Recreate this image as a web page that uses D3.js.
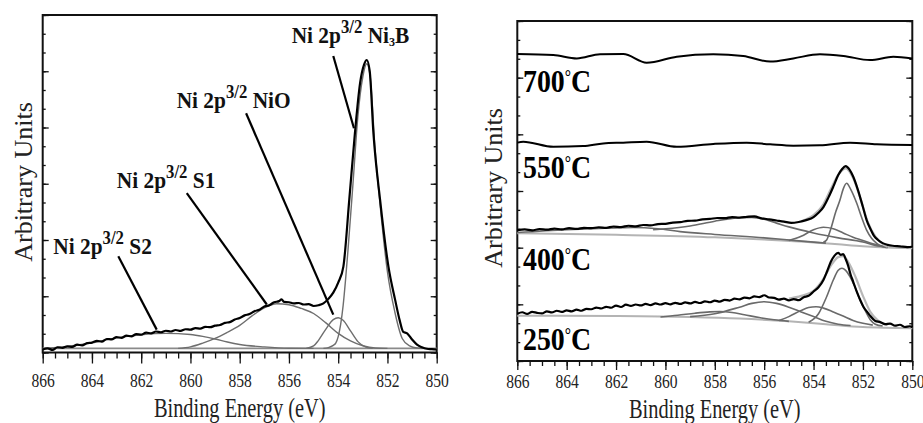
<!DOCTYPE html>
<html><head><meta charset="utf-8">
<script src="https://cdn.jsdelivr.net/npm/d3@7"></script>
<style>body{margin:0;background:#fff}svg{display:block}text{font-family:"Liberation Serif","Tinos","Times New Roman","DejaVu Serif",serif}</style>
</head><body>
<svg id="c" width="923" height="423"></svg>
<script>
// ---------- shared axis data ----------
const xMajor = [866, 864, 862, 860, 858, 856, 854, 852, 850];
const xTitle = "Binding Energy (eV)";
const yTitle = "Arbitrary Units";

// ---------- LEFT PANEL: Ni 2p3/2 fit ----------
const envL = [[866.0,0.16],[865.8,0.22],[865.6,0.14],[865.4,0.28],[865.2,0.25],[865.0,0.33],[864.8,0.30],[864.6,0.42],[864.4,0.38],[864.2,0.50],[864.0,0.53],[863.8,0.62],[863.6,0.58],[863.4,0.72],[863.2,0.70],[863.0,0.82],[862.8,0.78],[862.6,0.90],[862.4,0.86],[862.2,0.98],[862.0,0.95],[861.8,1.06],[861.6,1.02],[861.4,1.12],[861.2,1.08],[861.0,1.16],[860.8,1.12],[860.6,1.20],[860.4,1.15],[860.2,1.24],[860.0,1.22],[859.8,1.30],[859.6,1.27],[859.4,1.37],[859.2,1.35],[859.0,1.43],[858.8,1.47],[858.6,1.58],[858.4,1.62],[858.2,1.76],[858.0,1.84],[857.8,1.98],[857.6,2.05],[857.4,2.20],[857.2,2.28],[857.0,2.45],[856.8,2.52],[856.6,2.68],[856.4,2.74],[856.3,2.84],[856.2,2.70],[856.0,2.68],[855.8,2.62],[855.6,2.64],[855.4,2.56],[855.2,2.58],[855.0,2.48],[854.8,2.52],[854.6,2.62],[854.4,2.86],[854.2,3.19],[854.0,3.73],[853.79,4.58],[853.55,8.15],[853.32,11.71],[853.11,14.38],[852.95,15.35],[852.84,15.60],[852.72,15.0],[852.57,11.71],[852.30,8.15],[851.96,4.58],[851.69,2.82],[851.5,1.7],[851.36,1.1],[851.2,1.02],[851.0,0.69],[850.8,0.42],[850.6,0.28],[850.4,0.20],[850.2,0.18],[850.0,0.16]];
const bgL = [[866,0.22],[850,0.22]];
const s2L = [[866,0.22],[865,0.32],[864,0.52],[863,0.78],[862,0.95],[861,1.02],[860,0.96],[859.5,0.86],[859,0.72],[858.5,0.56],[858,0.43],[857,0.30],[856,0.23],[855,0.22]];
const s1L = [[860.5,0.22],[860,0.30],[859.5,0.50],[859,0.75],[858.5,1.08],[858,1.45],[857.5,1.95],[857,2.38],[856.5,2.60],[856,2.55],[855.5,2.35],[855,2.08],[854.5,1.58],[854,1.02],[853.5,0.62],[853,0.36],[852.5,0.24],[852,0.22]];
const nioL = [[855.3,0.22],[855.0,0.35],[854.8,0.65],[854.5,1.25],[854.2,1.75],[854.0,1.85],[853.8,1.72],[853.5,1.15],[853.2,0.58],[852.9,0.30],[852.6,0.22]];
const ni3bL = [[854.6,0.22],[854.4,0.26],[854.2,0.38],[854.1,0.5],[854.0,0.85],[853.9,1.5],[853.8,2.5],[853.7,3.9],[853.6,5.5],[853.4,9.0],[853.2,12.6],[853.0,14.7],[852.84,15.4],[852.7,14.7],[852.5,10.8],[852.3,7.9],[852.0,4.3],[851.7,2.16],[851.4,0.75],[851.1,0.35],[850.8,0.24],[850.5,0.22]];
const peakNames = [["S2"], ["S1"], ["NiO"], ["Ni", "3", "B"]];
const labelPosL = [[865.57,5.27],[862.99,8.79],[860.56,13.05],[855.89,16.51]];
const leadersL = [[[862.93,5.13],[861.37,1.22]],[[860.15,8.50],[856.90,2.56]],[[857.74,12.76],[854.20,2.02]],[[854.20,15.81],[853.36,11.96]]];

// ---------- RIGHT PANEL: annealing temperatures ----------
const temps = ["700", "550", "400", "250"];
const tempLabelPos = [[865.77,14.26],[865.77,9.67],[865.77,4.84],[865.77,0.58]];
const line700 = [[866,16.25],[864.54,16.20],[863.59,16.02],[862.65,16.24],[861.71,16.25],[860.76,15.79],[859.54,16.11],[858.06,16.24],[856.85,16.15],[855.76,15.85],[854.82,16.02],[853.74,16.24],[852.79,16.15],[851.71,15.93],[850.77,16.11],[850,16.02]];
const line550 = [[866,11.56],[865.76,11.61],[864.54,11.34],[863.33,11.38],[862.52,11.52],[861.71,11.56],[860.76,11.61],[859.54,11.34],[858.06,11.49],[856.71,11.56],[855.76,11.47],[854.82,11.40],[853.74,11.42],[852.52,11.56],[851.44,11.47],[850,11.43]];
const env400 = [[866.0,6.93],[865.7,6.97],[865.4,6.92],[865.1,6.98],[864.8,6.95],[864.5,7.01],[864.2,6.97],[863.9,7.03],[863.6,6.99],[863.3,7.05],[863.0,7.03],[862.7,7.08],[862.4,7.05],[862.1,7.12],[861.8,7.09],[861.5,7.16],[861.2,7.13],[860.9,7.20],[860.6,7.18],[860.3,7.25],[860.0,7.26],[859.7,7.33],[859.4,7.35],[859.1,7.42],[858.8,7.43],[858.5,7.50],[858.2,7.52],[857.9,7.57],[857.6,7.56],[857.3,7.62],[857.0,7.59],[856.7,7.63],[856.4,7.66],[856.1,7.55],[855.8,7.50],[855.5,7.44],[855.2,7.38],[854.9,7.31],[854.6,7.36],[854.3,7.46],[854.0,7.62],[853.8,7.85],[853.6,8.15],[853.4,8.65],[853.2,9.23],[853.0,9.85],[852.85,10.15],[852.7,10.32],[852.55,10.15],[852.4,9.78],[852.2,9.05],[852.0,8.15],[851.85,7.46],[851.7,7.0],[851.55,6.62],[851.4,6.42],[851.2,6.24],[851.0,6.15],[850.8,6.10],[850.5,6.07],[850.2,6.03],[850.0,6.05]];
const bg400 = [[866,6.76],[862,6.68],[858,6.55],[856,6.43],[854,6.28],[853,6.18],[852,6.08],[851,6.01],[850,5.97]];
const s2_400 = [[866,6.80],[864,6.95],[862,7.05],[861.3,7.07],[860.3,7.0],[859.4,6.85],[858,6.70],[856,6.52],[854.6,6.36],[853.5,6.24]];
const s1_400 = [[860.5,6.95],[860,7.0],[859,7.15],[858,7.40],[857,7.58],[856.5,7.60],[856,7.50],[855.5,7.30],[855,7.10],[854,6.78],[853,6.52],[852,6.30],[851.5,6.12],[851,6.03]];
const nio400 = [[855.0,6.38],[854.5,6.60],[854.0,6.95],[853.6,7.08],[853.2,7.0],[852.8,6.78],[852.4,6.55],[852.0,6.38],[851.6,6.20],[851.2,6.08]];
const ni3b400 = [[853.6,6.30],[853.47,6.41],[853.3,7.0],[853.1,7.9],[852.93,8.52],[852.8,9.1],[852.66,9.41],[852.5,9.1],[852.25,8.35],[852.05,7.6],[851.85,6.93],[851.65,6.5],[851.44,6.23],[851.2,6.05],[851.0,6.0]];
const fit400 = [[854.5,7.40],[854.0,7.72],[853.6,8.30],[853.3,9.10],[853.0,9.85],[852.7,10.2],[852.4,9.70],[852.1,8.60],[851.8,7.35],[851.5,6.60],[851.2,6.20],[851.0,6.05]];
const env250 = [[866.0,2.50],[865.8,2.58],[865.6,2.49],[865.4,2.60],[865.2,2.55],[865.0,2.52],[864.8,2.63],[864.6,2.57],[864.4,2.66],[864.2,2.60],[864.0,2.68],[863.8,2.63],[863.6,2.72],[863.4,2.66],[863.2,2.76],[863.0,2.74],[862.8,2.83],[862.6,2.78],[862.4,2.87],[862.2,2.82],[862.0,2.93],[861.8,2.86],[861.6,2.98],[861.4,2.92],[861.2,2.99],[861.0,2.94],[860.8,3.02],[860.6,2.96],[860.4,3.05],[860.2,2.99],[860.0,3.06],[859.8,3.00],[859.6,3.08],[859.4,3.02],[859.2,3.10],[859.0,3.05],[858.8,3.13],[858.6,3.07],[858.4,3.16],[858.2,3.11],[858.0,3.20],[857.8,3.14],[857.6,3.24],[857.4,3.20],[857.2,3.30],[857.0,3.26],[856.8,3.36],[856.6,3.32],[856.4,3.42],[856.2,3.38],[856.0,3.48],[855.8,3.36],[855.6,3.34],[855.4,3.25],[855.2,3.30],[855.0,3.21],[854.8,3.28],[854.6,3.22],[854.4,3.38],[854.2,3.45],[854.0,3.68],[853.8,3.90],[853.6,4.29],[853.45,4.75],[853.3,5.25],[853.15,5.58],[853.0,5.72],[852.9,5.62],[852.8,5.66],[852.7,5.40],[852.6,5.05],[852.5,4.58],[852.4,4.22],[852.25,3.67],[852.1,3.20],[851.98,2.87],[851.8,2.55],[851.7,2.38],[851.5,2.12],[851.3,2.06],[851.1,1.95],[850.9,1.98],[850.7,1.87],[850.5,1.92],[850.3,1.80],[850.1,1.84],[850.0,1.78]];
const bg250 = [[866,2.40],[862,2.38],[859,2.33],[857,2.25],[855,2.10],[853.5,1.95],[852,1.80],[850,1.74]];
const s2_250 = [[860.2,2.33],[859.5,2.42],[858.8,2.53],[858.2,2.60],[857.8,2.62],[857.3,2.57],[856.8,2.45],[856.2,2.30],[855.6,2.18],[855,2.10]];
const s1_250 = [[859,2.35],[858,2.50],[857,2.85],[856.5,3.05],[856,3.14],[855.5,3.05],[855,2.85],[854.5,2.60],[854,2.35],[853.5,2.10],[853,1.95],[852.5,1.88]];
const nio250 = [[855.4,2.15],[855,2.35],[854.5,2.68],[854.2,2.83],[853.9,2.87],[853.6,2.80],[853.2,2.60],[852.8,2.38],[852.4,2.15],[852,2.0],[851.6,1.90]];
const ni3b250 = [[854.2,2.05],[853.8,2.50],[853.47,3.40],[853.2,4.29],[853.0,4.80],[852.85,4.91],[852.7,4.80],[852.52,4.46],[852.3,3.85],[852.12,3.23],[851.9,2.65],[851.71,2.20],[851.5,1.95],[851.2,1.85]];
const fit250 = [[855,3.30],[854.5,3.45],[854,3.72],[853.6,4.35],[853.3,5.05],[853.0,5.50],[852.8,5.55],[852.6,5.25],[852.3,4.45],[852.0,3.45],[851.7,2.60],[851.4,2.15],[851.0,1.90]];

// ---------- drawing ----------
const svg = d3.select("#c");
const FONT = '"Liberation Serif","Tinos","Times New Roman","DejaVu Serif",serif';

function panel(cfg) {
  const g = svg.append("g");
  const x = d3.scaleLinear().domain([866, 850]).range([cfg.x0, cfg.x1]);
  const y = d3.scaleLinear().domain([0, 18]).range([cfg.y0, cfg.y1]);
  const minorX = d3.range(866, 849.9, -0.5);
  const minorY = d3.range(0, 18.01, 1);
  const majorY = d3.range(0, 18.01, 3);
  const strip = a => a.attr("font-family", null).select(".domain").remove();

  g.append("g").attr("transform", `translate(0,${cfg.y0})`)
    .call(d3.axisBottom(x).tickValues(minorX).tickSize(cfg.minLen).tickFormat(""))
    .call(strip);
  g.append("g").attr("transform", `translate(0,${cfg.y0})`)
    .call(d3.axisBottom(x).tickValues(xMajor).tickSize(cfg.majLen).tickPadding(cfg.pad).tickFormat(d3.format("d")))
    .call(strip)
    .call(a => a.selectAll("text").style("font-family", FONT).attr("font-size", 19)
      .attr("fill", "#222").attr("transform", "scale(0.82,1)"));
  [[minorY, 3], [majorY, 6]].forEach(([vals, len]) => {
    g.append("g").attr("transform", `translate(${cfg.x0},0)`)
      .call(d3.axisRight(y).tickValues(vals).tickSize(len).tickFormat("")).call(strip);
    g.append("g").attr("transform", `translate(${cfg.x1},0)`)
      .call(d3.axisLeft(y).tickValues(vals).tickSize(len).tickFormat("")).call(strip);
  });
  g.selectAll(".tick line").attr("stroke", "#111").attr("stroke-width", 1.3);

  g.append("rect").attr("x", cfg.x0).attr("y", cfg.y1)
    .attr("width", cfg.x1 - cfg.x0).attr("height", cfg.y0 - cfg.y1)
    .attr("fill", "none").attr("stroke", "#111").attr("stroke-width", 2);

  g.append("text").style("font-family", FONT).attr("font-size", 27).attr("fill", "#222")
    .attr("text-anchor", "middle")
    .attr("transform", `translate(${(cfg.x0 + cfg.x1) / 2},${cfg.xtY}) scale(0.755,1)`)
    .text(xTitle);
  g.append("text").style("font-family", FONT).attr("font-size", 26).attr("fill", "#222")
    .attr("text-anchor", "middle")
    .attr("transform", `translate(${cfg.ytX},${cfg.ytC}) rotate(-90)`)
    .text(yTitle);

  const line = d3.line().x(d => x(d[0])).y(d => y(d[1])).curve(d3.curveMonotoneX);
  const draw = (data, color, w) => g.append("path").attr("d", line(data.slice().sort((a, b) => a[0] - b[0])))
    .attr("fill", "none").attr("stroke", color).attr("stroke-width", w).attr("stroke-linejoin", "round");
  return { g, x, y, draw };
}

// Left panel
const L = panel({ x0: 42.7, x1: 436.7, y0: 352.5, y1: 15, minLen: 6, majLen: 11, pad: 10, xtY: 417, ytX: 32, ytC: 182 });
L.draw(bgL, "#8a8a8a", 1.6);
[s2L, s1L, nioL, ni3bL].forEach(d => L.draw(d, "#6e6e6e", 1.4));
L.draw(envL, "#000", 2.2);
leadersL.forEach(s => L.g.append("line")
  .attr("x1", L.x(s[0][0])).attr("y1", L.y(s[0][1]))
  .attr("x2", L.x(s[1][0])).attr("y2", L.y(s[1][1]))
  .attr("stroke", "#000").attr("stroke-width", 2.2));
peakNames.forEach((parts, i) => {
  const t = L.g.append("text").style("font-family", FONT).attr("font-weight", "bold")
    .attr("font-size", 23).attr("fill", "#111")
    .attr("transform", `translate(${L.x(labelPosL[i][0])},${L.y(labelPosL[i][1])}) scale(0.93,1)`);
  t.append("tspan").text("Ni 2p");
  t.append("tspan").attr("font-size", 18).attr("dy", -10).text("3/2");
  t.append("tspan").attr("dy", 10).text("\u00a0" + parts[0]);
  if (parts.length > 1) {
    t.append("tspan").attr("font-size", 13).attr("dy", 3).text(parts[1]);
    t.append("tspan").attr("dy", -3).text(parts[2]);
  }
});

// Right panel
const R = panel({ x0: 517.3, x1: 912.3, y0: 361, y1: 21, minLen: 5, majLen: 9, pad: 5, xtY: 418, ytX: 502, ytC: 188 });
[bg400, bg250].forEach(d => R.draw(d, "#b4b4b4", 2));
[s2_400, s1_400, nio400, ni3b400, s2_250, s1_250, nio250, ni3b250].forEach(d => R.draw(d, "#6a6a6a", 1.6));
[fit400, fit250].forEach(d => R.draw(d, "#b8b8b8", 2.2));
[line700, line550].forEach(d => R.draw(d, "#000", 2));
[env400, env250].forEach(d => R.draw(d, "#000", 2.2));
temps.forEach((t, i) => {
  const tx = R.g.append("text").style("font-family", FONT).attr("font-weight", "bold")
    .attr("font-size", 32).attr("fill", "#000")
    .attr("transform", `translate(${R.x(tempLabelPos[i][0])},${R.y(tempLabelPos[i][1])}) scale(0.87,1)`);
  tx.append("tspan").text(t);
  tx.append("tspan").attr("font-size", 18).attr("dy", -9).text("\u00b0");
  tx.append("tspan").attr("dy", 9).text("C");
});
</script>
</body></html>
